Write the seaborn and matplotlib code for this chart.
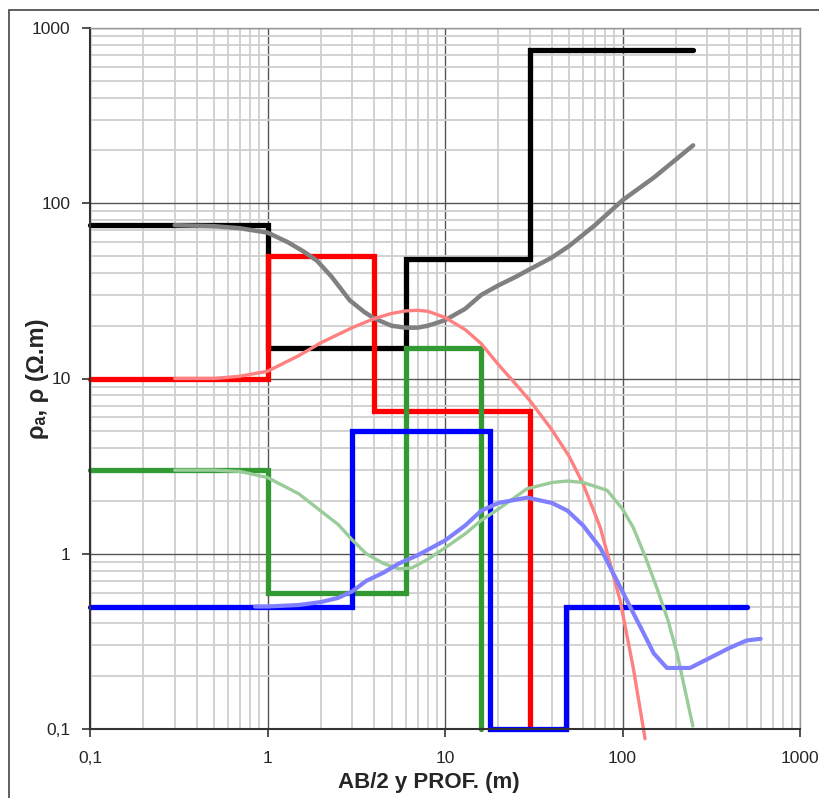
import matplotlib
matplotlib.use("Agg")
import matplotlib.pyplot as plt
import matplotlib.ticker as mticker
from matplotlib.patches import Rectangle
import seaborn as sns

# layer models (step functions): depth boundaries and resistivities
black_x = [0.1, 1, 6, 30, 250]
black_y = [75, 15, 48, 750, 750]
red_x = [0.1, 1, 4, 30]
red_y = [10, 50, 6.5, 0.1]
green_x = [0.1, 1, 6, 16]
green_y = [3, 0.6, 15, 0.1]
blue_x = [0.1, 3, 18, 48, 500]
blue_y = [0.5, 5, 0.1, 0.5, 0.5]

# apparent resistivity curves
gray_x = [0.3, 0.5, 0.7, 1, 1.3, 1.6, 1.9, 2.3, 2.9, 3.5, 4, 5, 6, 7, 8, 10,
          13, 16, 20, 25, 30, 40, 50, 70, 100, 150, 250]
gray_y = [75, 74, 72, 68, 60, 53, 47, 38, 28, 24, 22, 20, 19.5, 19.5, 20, 21.5,
          25, 30, 34, 38, 42, 49, 57, 75, 104, 140, 214]
pink_x = [0.3, 0.5, 0.7, 1, 1.5, 2, 3, 4, 5, 6, 7, 8, 10, 13, 16, 20, 25, 30,
          40, 50, 60, 75, 97, 115, 134]
pink_y = [10, 10, 10.3, 11, 13.5, 16, 19.5, 22, 23.5, 24.3, 24.5, 24.2, 22.3,
          19, 15.8, 12, 9.3, 7.5, 5.1, 3.6, 2.5, 1.41, 0.54, 0.223, 0.088]
lgreen_x = [0.3, 0.5, 0.7, 1, 1.5, 2, 2.5, 3, 3.6, 4.5, 5.5, 6.5, 8, 10, 13, 16,
            20, 29, 40, 49, 60, 82, 100, 115, 135, 156, 180, 203, 249]
lgreen_y = [3, 3, 2.95, 2.72, 2.2, 1.75, 1.47, 1.2, 1.0, 0.88, 0.82, 0.83, 0.93,
            1.08, 1.3, 1.55, 1.8, 2.35, 2.55, 2.6, 2.55, 2.3, 1.8, 1.41, 0.95,
            0.64, 0.42, 0.27, 0.104]
lblue_x = [0.85, 1, 1.5, 2, 2.5, 3, 3.6, 4.5, 5.5, 7, 10, 13, 16, 20, 29, 40,
           49, 60, 75, 90, 106, 130, 150, 178, 240, 300, 400, 500, 600]
lblue_y = [0.5, 0.5, 0.51, 0.53, 0.56, 0.61, 0.7, 0.78, 0.88, 0.98, 1.19, 1.45,
           1.76, 1.95, 2.09, 1.95, 1.76, 1.45, 1.08, 0.75, 0.54, 0.36, 0.27,
           0.223, 0.223, 0.25, 0.29, 0.32, 0.327]

ticks = [0.1, 1, 10, 100, 1000]
tick_labels = ["0,1", "1", "10", "100", "1000"]

sns.set_style("white")
plt.rcParams['font.family'] = ['Liberation Sans', 'DejaVu Sans']

fig = plt.figure(figsize=(8.19, 7.98), dpi=100)
fig.patches.append(Rectangle((9 / 819, -0.1), 1.2, 1 - 10 / 798 + 0.1,
                             transform=fig.transFigure, fill=False,
                             edgecolor="#444444", linewidth=1.2))
ax = fig.add_axes([90 / 819, 1 - 729 / 798, 710 / 819, 701 / 798])
ax.set_xscale("log")
ax.set_yscale("log")

# steps first, curves on top
steps = [(black_x, black_y, "black"), (red_x, red_y, "#ff0000"),
         (green_x, green_y, "#339933"), (blue_x, blue_y, "#0000ff")]
for xs, ys, c in steps:
    sns.lineplot(x=xs, y=ys, ax=ax, color=c, linewidth=3.8, sort=False,
                 estimator=None, drawstyle="steps-post", clip_on=False,
                 solid_capstyle="round", solid_joinstyle="miter")

curves = [(gray_x, gray_y, "#808080", 3.2), (pink_x, pink_y, "#ff8080", 2.4),
          (lgreen_x, lgreen_y, "#99cc99", 2.4), (lblue_x, lblue_y, "#8080ff", 3.0)]
for xs, ys, c, lw in curves:
    sns.lineplot(x=xs, y=ys, ax=ax, color=c, linewidth=lw, sort=False,
                 estimator=None, clip_on=False)

ax.set_xlim(0.1, 1000)
ax.set_ylim(0.1, 1000)
ax.set_xticks(ticks)
ax.set_xticklabels(tick_labels)
ax.set_yticks(ticks)
ax.set_yticklabels(tick_labels)
ax.xaxis.set_minor_locator(mticker.LogLocator(base=10, subs=range(2, 10)))
ax.yaxis.set_minor_locator(mticker.LogLocator(base=10, subs=range(2, 10)))
ax.xaxis.set_minor_formatter(mticker.NullFormatter())
ax.yaxis.set_minor_formatter(mticker.NullFormatter())

ax.grid(which="major", color="#555555", linewidth=1.0)
ax.grid(which="minor", color="#cfcfcf", linewidth=1.3)
ax.set_axisbelow(True)
ax.tick_params(which="major", direction="out", length=6, width=1.2,
               color="#333333", labelsize=12.5, bottom=True, left=True)
ax.tick_params(axis="x", which="major", pad=10)
ax.tick_params(axis="y", which="major", pad=8)
ax.tick_params(which="minor", length=0)
for side in ["top", "right"]:
    ax.spines[side].set_color("#999999")
    ax.spines[side].set_linewidth(1.0)
for side in ["left", "bottom"]:
    ax.spines[side].set_color("#333333")
    ax.spines[side].set_linewidth(1.5)

ax.set_xlabel("AB/2 y PROF. (m)", fontsize=16, fontweight="bold")
ax.xaxis.set_label_coords(0.477, -0.062)
ax.set_ylabel("ρₐ, ρ (Ω.m)", fontsize=17, fontweight="bold")
ax.yaxis.set_label_coords(-0.058, 0.50)

fig.savefig("out.png", dpi=100)
